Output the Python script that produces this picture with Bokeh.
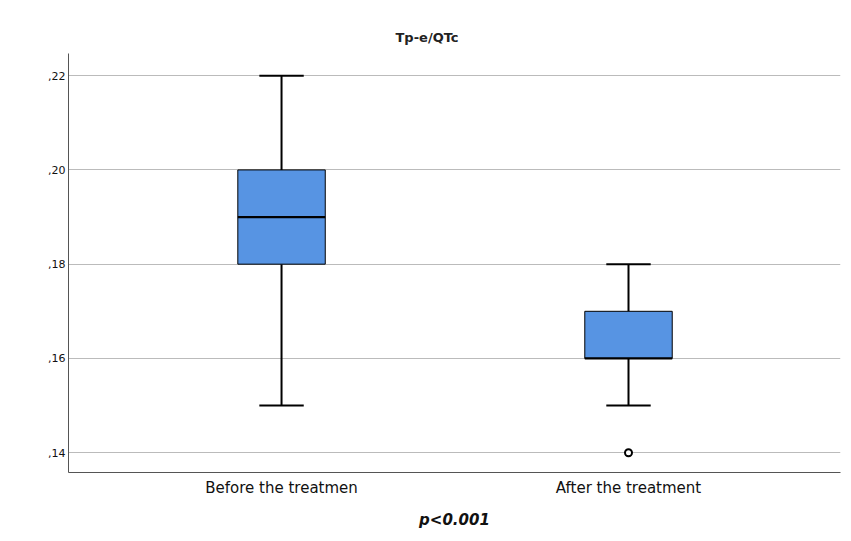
from bokeh.plotting import figure
from bokeh.models import Range1d, FixedTicker, ColumnDataSource
from bokeh.embed import file_html
from bokeh.resources import INLINE

categories = ["Before the treatmen", "After the treatment"]
xpos = [1, 2]
q1 = [0.18, 0.16]
median = [0.19, 0.16]
q3 = [0.20, 0.17]
lower = [0.15, 0.15]
upper = [0.22, 0.18]
outlier_x = [2]
outlier_y = [0.14]
yticks = [0.14, 0.16, 0.18, 0.20, 0.22]
ytick_labels = [",14", ",16", ",18", ",20", ",22"]

FONT = "DejaVu Sans"

p = figure(width=843, height=533, output_backend="svg", toolbar_location=None,
           x_range=Range1d(0.386, 2.611), y_range=Range1d(0.1358, 0.2247),
           min_border_left=68, min_border_right=3, min_border_top=53, min_border_bottom=61)
p.outline_line_color = None
p.background_fill_color = "white"

p.title.text = "Tp-e/QTc"
p.title.text_font = FONT
p.title.text_font_size = "13px"
p.title.text_font_style = "bold"
p.title.align = "left"
p.title.offset = 327
p.title.standoff = 17
p.title.text_color = "#222222"

src = ColumnDataSource(dict(x=xpos, q1=q1, med=median, q3=q3, lo=lower, hi=upper,
                            xl=[x - 0.064 for x in xpos], xr=[x + 0.064 for x in xpos],
                            bl=[x - 0.126 for x in xpos], br=[x + 0.126 for x in xpos]))

# whiskers
p.segment(x0="x", y0="lo", x1="x", y1="q1", source=src, line_color="black", line_width=2)
p.segment(x0="x", y0="q3", x1="x", y1="hi", source=src, line_color="black", line_width=2)
p.segment(x0="xl", y0="lo", x1="xr", y1="lo", source=src, line_color="black", line_width=2)
p.segment(x0="xl", y0="hi", x1="xr", y1="hi", source=src, line_color="black", line_width=2)
# boxes
p.vbar(x="x", width=0.252, bottom="q1", top="q3", source=src,
       fill_color="#5794E3", line_color="black", line_width=1)
# medians
p.segment(x0="bl", y0="med", x1="br", y1="med",
          source=src, line_color="black", line_width=2.2)
# outlier
p.scatter(outlier_x, outlier_y, marker="circle", size=7, fill_color="white",
          line_color="black", line_width=2)

p.xaxis.ticker = FixedTicker(ticks=xpos)
p.xaxis.major_label_overrides = {x: c for x, c in zip(xpos, categories)}
p.xaxis.major_label_text_font = FONT
p.xaxis.major_label_text_font_size = "15px"
p.xaxis.major_label_text_color = "#111111"
p.xaxis.major_label_standoff = 6
p.xaxis.major_tick_line_color = None
p.xaxis.major_tick_out = 0
p.xaxis.minor_tick_line_color = None
p.xaxis.axis_line_color = "#555555"
p.xaxis.axis_label = "p<0.001"
p.xaxis.axis_label_text_font = FONT
p.xaxis.axis_label_text_font_style = "bold italic"
p.xaxis.axis_label_text_font_size = "15px"
p.xaxis.axis_label_text_color = "#111111"
p.xaxis.axis_label_standoff = 11

p.yaxis.ticker = FixedTicker(ticks=yticks)
p.yaxis.major_label_overrides = {t: l for t, l in zip(yticks, ytick_labels)}
p.yaxis.major_label_text_font = FONT
p.yaxis.major_label_text_font_size = "11px"
p.yaxis.major_label_text_color = "#111111"
p.yaxis.major_label_standoff = 3
p.yaxis.major_tick_line_color = None
p.yaxis.major_tick_out = 0
p.yaxis.minor_tick_line_color = None
p.yaxis.axis_line_color = "#555555"

p.xgrid.grid_line_color = None
p.ygrid.grid_line_color = "#BBBBBB"
p.ygrid.grid_line_width = 1

open("out.html", "w").write(file_html(p, INLINE))
